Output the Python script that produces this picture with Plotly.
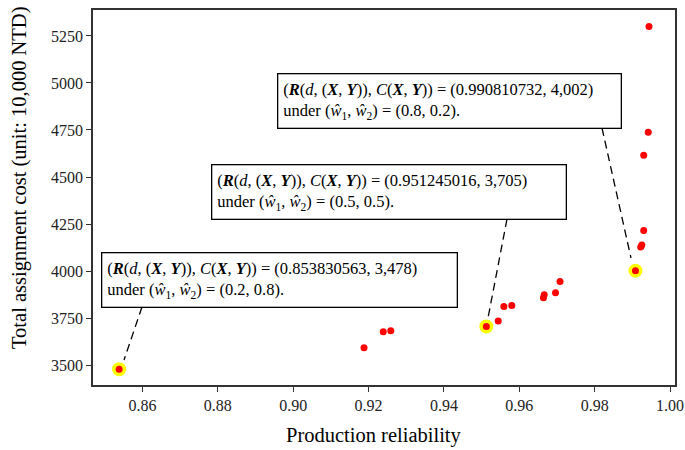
import plotly.graph_objects as go

# ---- data ----
reliability = [0.9188, 0.9239, 0.9259, 0.9544, 0.9559, 0.9580, 0.9664, 0.9666,
               0.9696, 0.9708, 0.9922, 0.9925, 0.9930, 0.9930, 0.9942, 0.9944]
cost = [3592, 3677, 3683, 3734, 3812, 3817, 3858, 3874,
        3885, 3945, 4128, 4138, 4216, 4616, 4738, 5300]

sel_reliability = [0.853830563, 0.951245016, 0.990810732]
sel_cost = [3478, 3705, 4002]
sel_weights = [(0.2, 0.8), (0.5, 0.5), (0.8, 0.2)]

x_ticks = [0.86, 0.88, 0.90, 0.92, 0.94, 0.96, 0.98, 1.00]
y_ticks = [3500, 3750, 4000, 4250, 4500, 4750, 5000, 5250]

# ---- layout geometry (page pixels) ----
W, H = 685, 450
L, R, T, B = 93, 675, 10, 385
XR = [0.8469, 1.0013]
YR = [3394, 5388]

def px2x(px):
    return XR[0] + (px - L) / (R - L) * (XR[1] - XR[0])

def py2y(py):
    return YR[1] - (py - T) / (B - T) * (YR[1] - YR[0])

FONT = "Liberation Serif"

fig = go.Figure()

# highlighted points (yellow halo)
fig.add_trace(go.Scatter(x=sel_reliability, y=sel_cost, mode="markers",
                         marker=dict(color="#ffff00", size=14, line=dict(width=0)),
                         hoverinfo="skip", showlegend=False))
fig.add_trace(go.Scatter(x=reliability + sel_reliability, y=cost + sel_cost, mode="markers",
                         marker=dict(color="#ff0000", size=7, line=dict(width=0)),
                         showlegend=False))

# annotation boxes: (left px, top px, width px) and dashed line (start px, end px)
boxes = [
    (101, 252, 356, (142, 307), (124, 360)),
    (211, 164, 355, (507, 219), (488, 318)),
    (277, 73, 344, (602, 128), (631, 258)),
]

def label(r, c, w):
    return ("(<b><i>R</i></b>(<i>d</i>, (<b><i>X</i></b>, <b><i>Y</i></b>)), "
            "<i>C</i>(<b><i>X</i></b>, <b><i>Y</i></b>)) = "
            f"({r:.9f}, {c:,})<br>"
            f"under (<i>ŵ</i><sub>1</sub>, <i>ŵ</i><sub>2</sub>) = ({w[0]}, {w[1]}).")

for (bl, bt, bw, s, e), r, c, w in zip(boxes, sel_reliability, sel_cost, sel_weights):
    fig.add_shape(type="line", x0=px2x(s[0]), y0=py2y(s[1]), x1=px2x(e[0]), y1=py2y(e[1]),
                  xref="x", yref="y", line=dict(color="black", width=1.3, dash="8px,5px"))
    fig.add_annotation(x=px2x(bl), y=py2y(bt), xref="x", yref="y",
                       xanchor="left", yanchor="top", showarrow=False,
                       text=label(r, c, w), align="left", valign="middle",
                       width=bw - 12, height=55 - 12, borderpad=5,
                       bgcolor="white", bordercolor="black", borderwidth=1.3,
                       font=dict(family=FONT, size=16.5, color="black"))

# axis titles
fig.add_annotation(text="Production reliability", x=(374 - L) / (R - L), y=-(435 - B) / (B - T),
                   xref="paper", yref="paper", showarrow=False, xanchor="center", yanchor="middle",
                   font=dict(family=FONT, size=20.5, color="black"))
fig.add_annotation(text="Total assignment cost (unit: 10,000 NTD)", textangle=-90,
                   x=-(L - 20) / (R - L), y=1 - (178 - T) / (B - T),
                   xref="paper", yref="paper", showarrow=False, xanchor="center", yanchor="middle",
                   font=dict(family=FONT, size=20.5, color="black"))

axis_common = dict(showline=True, mirror=True, linecolor="#333333", linewidth=1.6,
                   ticks="outside", ticklen=5, tickwidth=1.2, tickcolor="#333333",
                   showgrid=False, zeroline=False, automargin=False,
                   tickfont=dict(family=FONT, size=16, color="#222222"))

fig.update_xaxes(range=XR, tickvals=x_ticks, ticktext=[f"{v:.2f}" for v in x_ticks], **axis_common)
fig.update_yaxes(range=YR, tickvals=y_ticks, ticktext=[str(v) for v in y_ticks], **axis_common)

fig.update_layout(width=W, height=H,
                  margin=dict(l=L, r=W - R, t=T, b=H - B),
                  plot_bgcolor="white", paper_bgcolor="white",
                  font=dict(family=FONT))

fig.write_html("out.html", config={"displayModeBar": False},
               post_script="document.body.style.margin='0';document.body.style.overflow='hidden';")
